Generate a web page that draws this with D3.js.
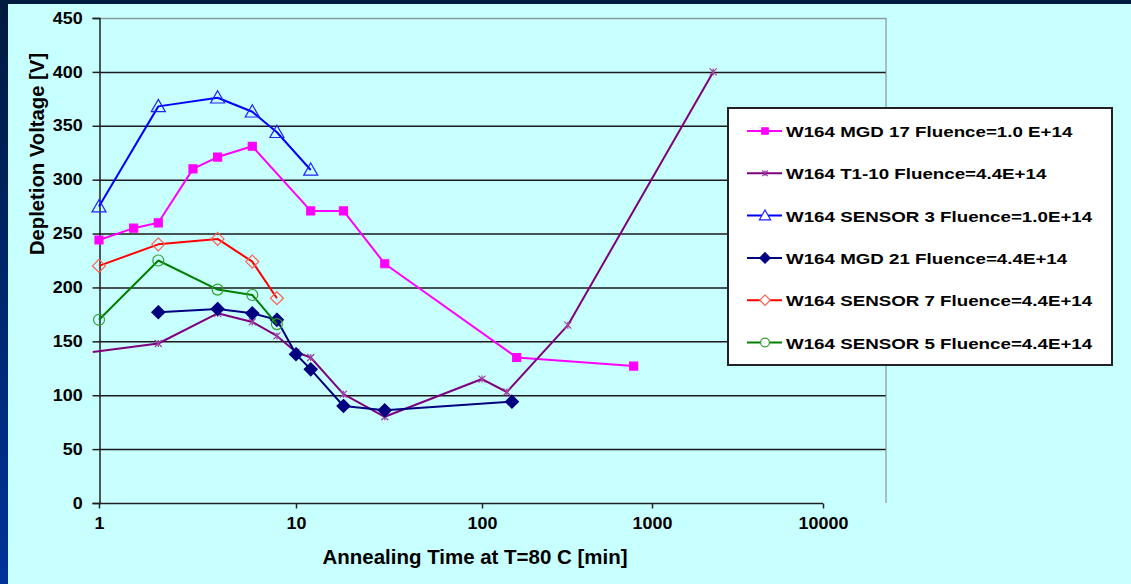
<!DOCTYPE html>
<html>
<head>
<meta charset="utf-8">
<script src="https://cdn.jsdelivr.net/npm/d3@7"></script>
<style>
  html, body { margin: 0; padding: 0; background: #001a40; }
  svg { display: block; font-family: "Liberation Sans", Arial, sans-serif; }
</style>
</head>
<body>
<script>
// ===== data =====
var xTickValues = [1, 10, 100, 1000, 10000];
var yTickValues = [0, 50, 100, 150, 200, 250, 300, 350, 400, 450];

var seriesNames = [
  'W164 MGD 17 Fluence=1.0 E+14',
  'W164 T1-10 Fluence=4.4E+14',
  'W164 SENSOR 3 Fluence=1.0E+14',
  'W164 MGD 21 Fluence=4.4E+14',
  'W164 SENSOR 7 Fluence=4.4E+14',
  'W164 SENSOR 5 Fluence=4.4E+14'
];

var mgd17Time = [1, 1.5, 2, 3, 4, 6, 12, 18, 30, 160, 780];
var mgd17Volt = [244, 255, 260, 310, 321, 331, 271, 271, 222, 135, 127];

var t110Time = [0.93, 2, 4, 6, 8, 10, 12, 18, 30, 100, 140, 320, 2280];
var t110Volt = [140, 148, 176, 168, 155, 140, 135, 101, 80, 115, 103, 165, 400];

var sensor3Time = [1, 2, 4, 6, 8, 12];
var sensor3Volt = [275, 368, 376, 363, 344, 309];

var mgd21Time = [2, 4, 6, 8, 10, 12, 18, 30, 150];
var mgd21Volt = [177, 180, 176, 170, 138, 124, 90, 86, 94];

var sensor7Time = [1, 2, 4, 6, 8];
var sensor7Volt = [220, 240, 245, 224, 190];

var sensor5Time = [1, 2, 4, 6, 8];
var sensor5Volt = [170, 225, 198, 193, 166];

// ===== styles =====
var W = 1131, H = 584;
var styles = [
  { line: '#ff00ff', marker: 'square',   fill: '#ff00ff', stroke: '#ff00ff', r: 4 },
  { line: '#800080', marker: 'asterisk', fill: 'none',    stroke: '#a040a0', r: 3.5 },
  { line: '#0000ff', marker: 'triangle', fill: 'none',    stroke: '#2020ff', r: 7 },
  { line: '#000080', marker: 'diamond',  fill: '#000080', stroke: '#000080', r: 6.5 },
  { line: '#ff0000', marker: 'diamond',  fill: 'none',    stroke: '#ff6050', r: 6.5 },
  { line: '#008000', marker: 'circle',   fill: 'none',    stroke: '#30a030', r: 5.5 }
];

var series = [
  [mgd17Time, mgd17Volt],
  [t110Time, t110Volt],
  [sensor3Time, sensor3Volt],
  [mgd21Time, mgd21Volt],
  [sensor7Time, sensor7Volt],
  [sensor5Time, sensor5Volt]
].map(function(s, i) {
  return {
    name: seriesNames[i],
    style: styles[i],
    points: s[0].map(function(t, j) { return { t: t, v: s[1][j] }; })
  };
});

var svg = d3.select('body').append('svg')
  .attr('width', W)
  .attr('height', H);

// slide background
var defs = svg.append('defs');
var grad = defs.append('linearGradient').attr('id', 'edge')
  .attr('x1', 0).attr('y1', 0).attr('x2', 0).attr('y2', 1);
grad.append('stop').attr('offset', '0%').attr('stop-color', '#001a40');
grad.append('stop').attr('offset', '100%').attr('stop-color', '#003399');

svg.append('rect').attr('width', W).attr('height', H).attr('fill', 'url(#edge)');
svg.append('rect').attr('x', 8).attr('y', 4).attr('width', W - 8).attr('height', H - 4)
  .attr('fill', '#c8ffff');

/* ===== scales ===== */
// the decades are not evenly spaced in the picture, so the log scale is piecewise
var xScale = d3.scaleLog()
  .domain(xTickValues)
  .range([99, 296, 482, 652, 823]);

var yScale = d3.scaleLinear()
  .domain([0, 450])
  .range([503, 18]);

var plotRight = 886;

/* ===== grid ===== */
svg.append('g').selectAll('line').data(yTickValues.filter(function(d) { return d > 0; }))
  .enter().append('line')
  .attr('x1', xScale(1)).attr('x2', plotRight)
  .attr('y1', function(d) { return yScale(d) + 0.5; })
  .attr('y2', function(d) { return yScale(d) + 0.5; })
  .attr('stroke', function(d) { return d === 450 ? '#8a9a9a' : '#1a1a1a'; })
  .attr('stroke-width', 1.5);

svg.append('line')
  .attr('x1', plotRight).attr('x2', plotRight)
  .attr('y1', yScale(450)).attr('y2', yScale(0))
  .attr('stroke', '#808080').attr('stroke-width', 1);

/* ===== axes ===== */
var xAxis = d3.axisBottom(xScale)
  .tickValues(xTickValues)
  .tickFormat(d3.format('d'))
  .tickSize(5)
  .tickPadding(9);

var yAxis = d3.axisLeft(yScale)
  .tickValues(yTickValues)
  .tickSize(7)
  .tickPadding(8);

var gx = svg.append('g').attr('transform', 'translate(0,' + (yScale(0) + 0.5) + ')').call(xAxis);
var gy = svg.append('g').attr('transform', 'translate(' + (xScale(1) + 0.5) + ',0)').call(yAxis);

[gx, gy].forEach(function(g) {
  g.select('.domain').attr('stroke', '#202020').attr('stroke-width', 1.5);
  g.selectAll('.tick line').attr('stroke', '#202020').attr('stroke-width', 1.5);
  g.selectAll('.tick text')
    .attr('fill', '#000')
    .attr('transform', 'scale(1.12,1)')
    .style('font-size', '16px')
    .style('font-weight', 'bold');
});
gx.select('.domain').attr('d', 'M' + xScale(1) + ',0H' + xScale(10000));

svg.append('text')
  .attr('transform', 'translate(475,564) scale(1.05,1)')
  .attr('text-anchor', 'middle')
  .style('font-size', '19.5px').style('font-weight', 'bold')
  .text('Annealing Time at T=80 C [min]');

svg.append('text')
  .attr('transform', 'translate(44,154) rotate(-90) scale(1.04,1)')
  .attr('text-anchor', 'middle')
  .style('font-size', '19.5px').style('font-weight', 'bold')
  .text('Depletion Voltage [V]');

/* ===== markers ===== */
function markerPath(kind, r) {
  if (kind === 'square') return 'M' + (-r) + ',' + (-r) + 'h' + 2 * r + 'v' + 2 * r + 'h' + (-2 * r) + 'Z';
  if (kind === 'triangle') return 'M0,' + (-r) + 'L' + r + ',' + (r * 0.75) + 'H' + (-r) + 'Z';
  if (kind === 'diamond') return 'M0,' + (-r) + 'L' + r + ',0L0,' + r + 'L' + (-r) + ',0Z';
  if (kind === 'circle') return d3.arc()({ innerRadius: 0, outerRadius: r, startAngle: 0, endAngle: 2 * Math.PI });
  // asterisk: x with a vertical bar
  return 'M' + (-r) + ',' + (-r) + 'L' + r + ',' + r +
    'M' + (-r) + ',' + r + 'L' + r + ',' + (-r) +
    'M0,' + (-r) + 'L0,' + r;
}

var line = d3.line()
  .x(function(d) { return xScale(d.t); })
  .y(function(d) { return yScale(d.v); });

var gSeries = svg.append('g').selectAll('g').data(series).enter().append('g');

gSeries.append('path')
  .attr('d', function(d) { return line(d.points); })
  .attr('fill', 'none')
  .attr('stroke', function(d) { return d.style.line; })
  .attr('stroke-width', 2)
  .attr('stroke-linejoin', 'round');

gSeries.each(function(s) {
  d3.select(this).selectAll('path.mk')
    .data(s.points.filter(function(p) { return p.t >= 1; }))
    .enter().append('path')
    .attr('class', 'mk')
    .attr('transform', function(p) { return 'translate(' + xScale(p.t) + ',' + yScale(p.v) + ')'; })
    .attr('d', markerPath(s.style.marker, s.style.r))
    .attr('fill', s.style.fill)
    .attr('stroke', s.style.stroke)
    .attr('stroke-width', 1.2);
});

/* ===== legend ===== */
var lg = svg.append('g').attr('transform', 'translate(728,108)');
lg.append('rect')
  .attr('width', 384).attr('height', 257)
  .attr('fill', '#fff')
  .attr('stroke', '#222').attr('stroke-width', 2);

var items = lg.selectAll('g.item').data(series).enter().append('g')
  .attr('class', 'item')
  .attr('transform', function(d, i) { return 'translate(0,' + (23 + i * 42.3) + ')'; });

items.append('line')
  .attr('x1', 19).attr('x2', 54)
  .attr('stroke', function(d) { return d.style.line; })
  .attr('stroke-width', 2);

items.append('path')
  .attr('transform', 'translate(37,0)')
  .attr('d', function(d) { return markerPath(d.style.marker, d.style.r * 0.8); })
  .attr('fill', function(d) { return d.style.fill === 'none' ? '#fff' : d.style.fill; })
  .attr('stroke', function(d) { return d.style.stroke; })
  .attr('stroke-width', 1.2);

items.append('text')
  .attr('transform', 'translate(58,6) scale(1.21,1)')
  .style('font-size', '15.5px').style('font-weight', 'bold')
  .attr('fill', '#000')
  .text(function(d) { return d.name; });
</script>
</body>
</html>
